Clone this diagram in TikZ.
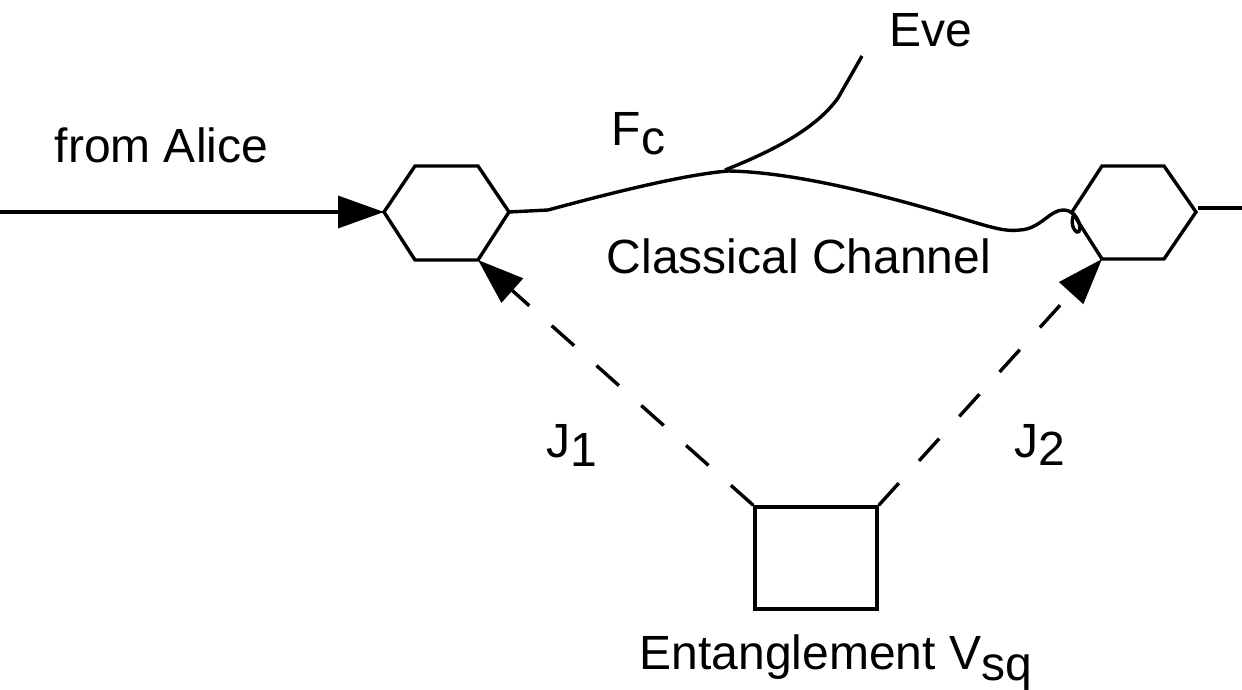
\documentclass[tikz,border=0pt]{standalone}
\usepackage{fontspec}
\setmainfont{Liberation Sans}
\usetikzlibrary{arrows.meta}
\begin{document}
\begin{tikzpicture}[x=1pt,y=-1pt,
  line width=3.4pt, line join=miter,
  lbl/.style={anchor=base west, inner sep=0pt, font=\fontsize{48}{56}\selectfont},
  hexa/.style={line width=3.4pt},
  tipped/.style={-{Triangle[length=46pt,width=32pt]}},
  dashline/.style={dash pattern=on 30pt off 30pt},
  sqbox/.style={draw, rectangle, minimum width=122pt, minimum height=102pt, inner sep=0pt, line width=3.4pt}]
\useasboundingbox (0,0) rectangle (1242,690);
% left hexagon vertices
\coordinate (hL-l) at (384,212);
\coordinate (hL-tl) at (415,166);
\coordinate (hL-tr) at (478,166);
\coordinate (hL-r) at (509,212);
\coordinate (hL-br) at (478,260);
\coordinate (hL-bl) at (415,260);
% right hexagon vertices
\coordinate (hR-l) at (1072,212);
\coordinate (hR-tl) at (1102,166);
\coordinate (hR-tr) at (1164,166);
\coordinate (hR-r) at (1196,212);
\coordinate (hR-br) at (1164,259);
\coordinate (hR-bl) at (1102,259);
\draw[hexa] (hL-l) -- (hL-tl) -- (hL-tr) -- (hL-r) -- (hL-br) -- (hL-bl) -- cycle;
\draw[hexa] (hR-l) -- (hR-tl) -- (hR-tr) -- (hR-r) -- (hR-br) -- (hR-bl) -- cycle;
% input from Alice
\coordinate (alice) at (0,212);
\draw[tipped] (alice) -- (hL-l);
% output line
\coordinate (outA) at (1198,208);
\coordinate (outB) at (1242,208);
\draw (outA) -- (outB);
% classical channel curve
\coordinate (split) at (728,171);
\draw (hL-r) -- (548,210) .. controls (600,196) and (680,175) .. (split)
  .. controls (800,172) and (900,200) .. (960,218)
  .. controls (990,227) and (1005,232) .. (1020,230)
  .. controls (1040,229) and (1050,210) .. (1063,210)
  .. controls (1080,210) and (1083,234) .. (1077,232)
  .. controls (1071,229) and (1071,217) .. (1075,213);
% Eve branch
\coordinate (eve) at (862,56);
\draw (725,170) .. controls (770,152) and (815,130) .. (838,98) -- (eve);
% entanglement source
\node[sqbox] (sq) at (816,558) {};
\draw[tipped, dashline] (sq.north west) -- (hL-br);
\draw[tipped, dashline] (sq.north east) -- (hR-bl);
% labels
\node[lbl] (tAlice) at (53,163) {from Alice};
\node[lbl] (tFc) at (610,146) {F\raisebox{-9pt}{c}};
\node[lbl] (tEve) at (888,47) {Eve};
\node[lbl] (tCC) at (605,273) {Classical Channel};
\node[lbl] (tJ1) at (545,457) {J\raisebox{-9pt}{1}};
\node[lbl] (tJ2) at (1013,457) {J\raisebox{-8pt}{2}};
\node[lbl] (tEnt) at (638,669) {Entanglement V\raisebox{-11pt}{sq}};
\end{tikzpicture}
\end{document}
